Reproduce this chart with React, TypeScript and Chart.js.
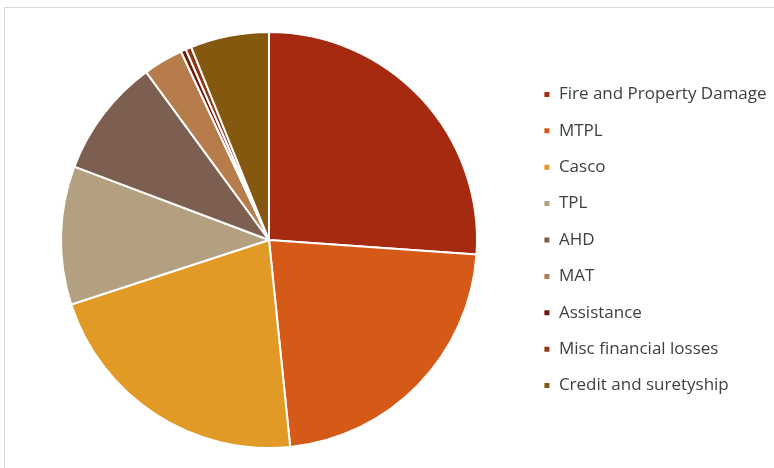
import React, { useEffect, useRef } from "react";
import { Chart, registerables } from "chart.js";

Chart.register(...registerables);

const categories = [
  "Fire and Property Damage",
  "MTPL",
  "Casco",
  "TPL",
  "AHD",
  "MAT",
  "Assistance",
  "Misc financial losses",
  "Credit and suretyship",
];
const shares = [26.1, 22.25, 21.6, 10.75, 9.2, 3.1, 0.4, 0.45, 6.1];
const colors = [
  "#A52A0F",
  "#D55A17",
  "#E09A25",
  "#B3A080",
  "#7D5F52",
  "#B77C4B",
  "#6E1A0B",
  "#8F3510",
  "#85580F",
];

const framePlugin = {
  id: "frame",
  beforeDraw(chart: any) {
    const ctx = chart.ctx;
    ctx.save();
    ctx.fillStyle = "#ffffff";
    ctx.fillRect(0, 0, chart.width, chart.height);
    ctx.strokeStyle = "#d9d9d9";
    ctx.lineWidth = 1;
    ctx.strokeRect(4.5, 7.5, chart.width + 20, chart.height + 20);
    ctx.restore();
  },
};

export default function App() {
  const ref = useRef<HTMLCanvasElement | null>(null);
  useEffect(() => {
    if (!ref.current) return;
    const chart = new Chart(ref.current, {
      type: "pie",
      data: {
        labels: categories,
        datasets: [
          {
            data: shares,
            backgroundColor: colors,
            borderColor: "#ffffff",
            borderWidth: 2,
          },
        ],
      },
      options: {
        responsive: false,
        animation: false,
        layout: { padding: { left: 14, top: 31, bottom: 19, right: 0 } },
        plugins: {
          tooltip: { enabled: false },
          legend: {
            position: "right",
            maxWidth: 250,
            labels: {
              boxWidth: 7,
              boxHeight: 7,
              padding: 19.4,
              color: "#404040",
              font: { family: "'Open Sans', sans-serif", size: 17 },
            },
          },
        },
      },
      plugins: [framePlugin],
    });
    return () => chart.destroy();
  }, []);
  return (
    <div style={{ position: "fixed", left: 0, top: 0, width: 774, height: 468 }}>
      <canvas ref={ref} width={774} height={468} style={{ width: 774, height: 468 }} />
    </div>
  );
}
